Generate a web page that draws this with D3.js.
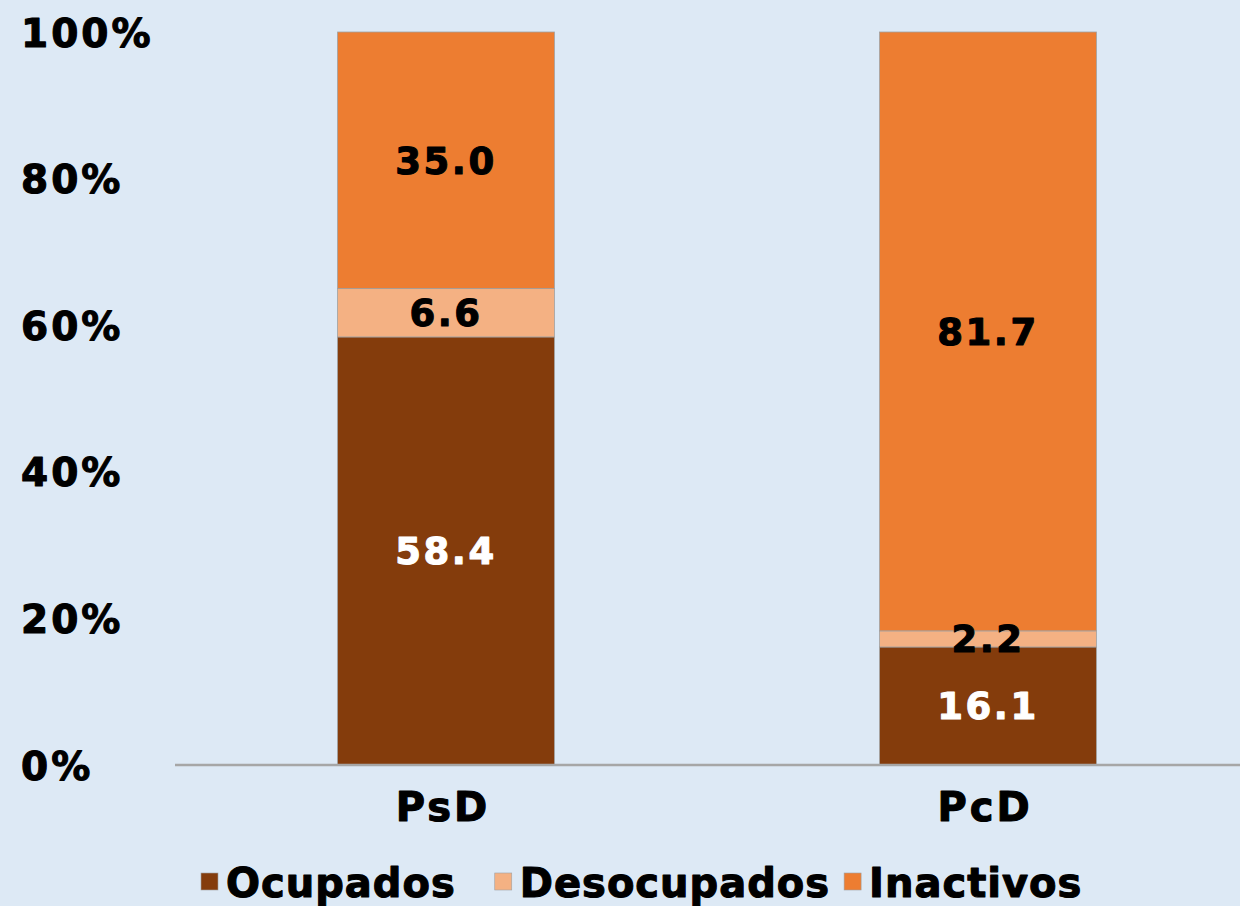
<!DOCTYPE html>
<html lang="es">
<head>
<meta charset="utf-8">
<title>PsD / PcD</title>
<script src="https://d3js.org/d3.v7.min.js"></script>
<style>
  html, body { margin: 0; padding: 0; background: #dde9f5; }
  svg { display: block; font-family: "DejaVu Sans", Verdana, sans-serif; font-weight: bold; }
  .heavy { stroke-width: 1.1px; paint-order: stroke; stroke-linejoin: round; }
</style>
</head>
<body>
<div id="chart"></div>
<script>
// data
var categories = ["PsD", "PcD"];
var seriesNames = ["Ocupados", "Desocupados", "Inactivos"];
var ocupados = [58.4, 16.1];
var desocupados = [6.6, 2.2];
var inactivos = [35.0, 81.7];
var yTicks = [0, 20, 40, 60, 80, 100];

var colors = ["#843c0c", "#f4b183", "#ed7d31"];
var labelColors = ["#ffffff", "#000000", "#000000"];

var width = 1240, height = 906;
var y0 = 765, y1 = 32;

var svg = d3.select("#chart").append("svg")
    .attr("width", width)
    .attr("height", height);

svg.append("rect").attr("width", width).attr("height", height).attr("fill", "#dde9f5");

var x = d3.scaleBand()
    .domain(categories)
    .range([175, 1259])
    .paddingInner(0.6)
    .paddingOuter(0.3);

var y = d3.scaleLinear().domain([0, 100]).range([y0, y1]);

// stacked rows
var rows = categories.map(function(c, i) {
    return { cat: c, Ocupados: ocupados[i], Desocupados: desocupados[i], Inactivos: inactivos[i] };
});
var stacked = d3.stack().keys(seriesNames)(rows);

// y labels
svg.append("g").selectAll("text")
    .data(yTicks).enter().append("text")
    .attr("class", "heavy")
    .attr("x", 21)
    .attr("y", function(d) { return y(d) + 4; })
    .attr("dominant-baseline", "middle")
    .attr("font-size", 39)
    .attr("letter-spacing", 3)
    .attr("fill", "#000").attr("stroke", "#000")
    .text(function(d) { return d + "%"; });

// bars
stacked.forEach(function(layer, si) {
    svg.append("g").selectAll("rect")
        .data(layer).enter().append("rect")
        .attr("x", function(d) { return x(d.data.cat); })
        .attr("width", x.bandwidth())
        .attr("y", function(d) { return y(d[1]); })
        .attr("height", function(d) { return y(d[0]) - y(d[1]); })
        .attr("fill", colors[si])
        .attr("stroke", "#a0a0a0")
        .attr("stroke-width", 0.8);
});

// axis line
svg.append("line")
    .attr("x1", 175).attr("x2", width)
    .attr("y1", y0).attr("y2", y0)
    .attr("stroke", "#a6a6a6")
    .attr("stroke-width", 2.5);

// data labels
stacked.forEach(function(layer, si) {
    svg.append("g").selectAll("text")
        .data(layer).enter().append("text")
        .attr("class", "heavy")
        .attr("x", function(d) { return x(d.data.cat) + x.bandwidth() / 2; })
        .attr("y", function(d) { return (y(d[0]) + y(d[1])) / 2 + 3; })
        .attr("text-anchor", "middle")
        .attr("dominant-baseline", "middle")
        .attr("font-size", 37)
        .attr("letter-spacing", 2.5)
        .attr("fill", labelColors[si]).attr("stroke", labelColors[si])
        .text(function(d) { return (d[1] - d[0]).toFixed(1); });
});

// category labels
svg.append("g").selectAll("text")
    .data(categories).enter().append("text")
    .attr("class", "heavy")
    .attr("x", function(d) { return x(d) + x.bandwidth() / 2 - 3; })
    .attr("y", 810)
    .attr("text-anchor", "middle")
    .attr("dominant-baseline", "middle")
    .attr("font-size", 40)
    .attr("letter-spacing", 3)
    .attr("fill", "#000").attr("stroke", "#000")
    .text(function(d) { return d; });

// legend
var legend = svg.append("g");
var gaps = [39, 14, 0];
var lx = 201;
seriesNames.forEach(function(name, i) {
    legend.append("rect")
        .attr("x", lx).attr("y", 873)
        .attr("width", 17).attr("height", 17)
        .attr("fill", colors[i])
        .attr("stroke", "#a0a0a0")
        .attr("stroke-width", 0.6);
    var t = legend.append("text")
        .attr("class", "heavy")
        .attr("x", lx + 25)
        .attr("y", 886)
        .attr("dominant-baseline", "middle")
        .attr("font-size", 40)
        .attr("letter-spacing", 1)
        .attr("fill", "#000").attr("stroke", "#000")
        .text(name);
    lx += 25 + t.node().getComputedTextLength() + gaps[i];
});
</script>
</body>
</html>
